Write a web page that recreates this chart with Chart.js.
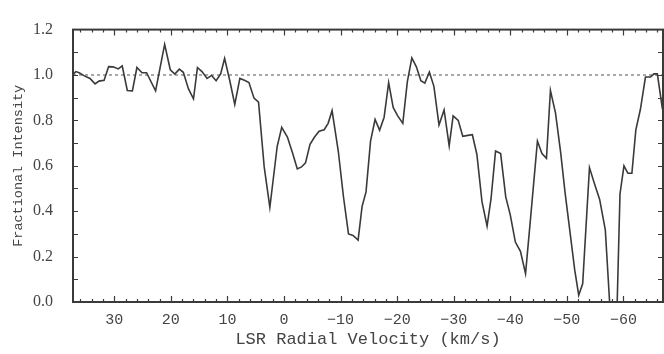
<!DOCTYPE html>
<html>
<head>
<meta charset="utf-8">
<script src="https://cdn.jsdelivr.net/npm/chart.js@4.4.1/dist/chart.umd.min.js"></script>
<style>
  html, body { margin: 0; padding: 0; background: #fff; }
  #wrap { width: 664px; height: 354px; position: relative; }
</style>
</head>
<body>
<div id="wrap"><canvas id="spectrum"></canvas></div>
<script>
// LSR radial velocity (km/s) and fractional intensity
const velocity = [
  37.4, 36.8, 36.2, 35.3, 34.3, 33.4, 32.7, 31.8, 31.0, 30.2,
  29.3, 28.6, 27.7, 26.8, 26.0, 25.1, 24.3, 22.7, 21.1, 20.1,
  19.3, 18.5, 17.8, 16.9, 16.0, 15.3, 14.5, 13.6, 12.8, 12.0,
  11.2, 10.5, 9.6, 8.7, 7.8, 7.0, 6.2, 5.3, 4.5, 3.5,
  2.5, 1.2, 0.4, -0.6, -1.5, -2.35, -3.1, -3.8, -4.6, -5.4,
  -6.2, -7.1, -7.8, -8.5, -9.6, -10.5, -11.4, -12.2, -13.1, -13.8,
  -14.5, -15.3, -16.1, -16.9, -17.7, -18.5, -19.3, -20.1, -21.0, -21.8,
  -22.6, -23.4, -24.2, -24.9, -25.7, -26.5, -27.4, -28.3, -29.2, -29.9,
  -30.8, -31.6, -32.5, -33.3, -34.1, -35.0, -35.9, -36.6, -37.4, -38.3,
  -39.2, -40.0, -40.9, -41.8, -42.7, -43.6, -44.8, -45.6, -46.4, -47.1,
  -48.0, -48.9, -49.7, -50.6, -51.4, -52.1, -52.8, -54.0, -54.9, -55.8,
  -56.8, -57.8, -58.8, -59.4, -60.1, -60.8, -61.5, -62.2, -63.0, -63.9,
  -64.8, -65.4, -66.0, -66.9
];
const intensity = [
  0.998, 1.015, 1.010, 0.996, 0.985, 0.961, 0.973, 0.977, 1.037, 1.036,
  1.027, 1.040, 0.932, 0.930, 1.033, 1.010, 1.010, 0.930, 1.135, 1.023,
  1.004, 1.026, 1.012, 0.940, 0.895, 1.033, 1.015, 0.985, 0.998, 0.975,
  1.005, 1.073, 0.977, 0.870, 0.985, 0.977, 0.967, 0.898, 0.880, 0.595,
  0.417, 0.686, 0.769, 0.727, 0.657, 0.586, 0.595, 0.613, 0.695, 0.727,
  0.752, 0.759, 0.787, 0.843, 0.664, 0.466, 0.300, 0.293, 0.273, 0.420,
  0.485, 0.709, 0.804, 0.757, 0.814, 0.966, 0.857, 0.820, 0.787, 0.970,
  1.075, 1.036, 0.975, 0.964, 1.013, 0.950, 0.780, 0.846, 0.688, 0.820,
  0.800, 0.730, 0.734, 0.737, 0.650, 0.442, 0.334, 0.455, 0.665, 0.654,
  0.463, 0.384, 0.264, 0.223, 0.125, 0.373, 0.709, 0.654, 0.633, 0.932,
  0.832, 0.660, 0.480, 0.300, 0.140, 0.030, 0.080, 0.592, 0.520, 0.452,
  0.318, -0.100, -0.100, 0.477, 0.600, 0.567, 0.567, 0.758, 0.848, 0.991,
  0.991, 1.005, 1.005, 0.850
];
const continuumLevel = 1.0;
const xLimits = [-67, 37.3];
const yTicks = [0, 0.2, 0.4, 0.6, 0.8, 1.0, 1.2];

const monoFont = "'Liberation Mono', 'DejaVu Sans Mono', monospace";
const serifFont = "'Liberation Serif', 'DejaVu Serif', serif";
const inkColor = '#3a3a3a';

// frame drawn on all four sides with inward-pointing ticks, like the original plotter figure
const frameTicks = {
  id: 'frameTicks',
  afterDatasetsDraw(chart) {
    const { ctx, chartArea: a, scales: { x, y } } = chart;
    ctx.save();
    ctx.strokeStyle = inkColor;
    ctx.lineWidth = 1.2;
    ctx.beginPath();
    for (let v = -66; v <= 36; v += 2) {
      const px = Math.round(x.getPixelForValue(v)) + 0.5;
      const len = v % 10 === 0 ? 6 : 3;
      ctx.moveTo(px, a.bottom); ctx.lineTo(px, a.bottom - len);
      ctx.moveTo(px, a.top); ctx.lineTo(px, a.top + len);
    }
    for (let i = 1; i < 12; i++) {
      const py = Math.round(y.getPixelForValue(i / 10)) + 0.5;
      ctx.moveTo(a.left, py); ctx.lineTo(a.left + 5, py);
      ctx.moveTo(a.right, py); ctx.lineTo(a.right - 5, py);
    }
    ctx.stroke();
    ctx.lineWidth = 2;
    ctx.strokeRect(a.left, a.top, a.right - a.left, a.bottom - a.top);
    ctx.restore();
  }
};

const fmtVel = v => (v < 0 ? '\u2212' + Math.abs(v) : String(v));

new Chart(document.getElementById('spectrum'), {
  type: 'line',
  data: {
    datasets: [
      {
        label: 'Fractional intensity',
        data: velocity.map((v, i) => ({ x: v, y: intensity[i] })),
        borderColor: inkColor,
        borderWidth: 1.6,
        pointRadius: 0,
        tension: 0,
        fill: false
      },
      {
        label: 'Continuum',
        data: [{ x: xLimits[1], y: continuumLevel }, { x: xLimits[0], y: continuumLevel }],
        borderColor: '#555',
        borderWidth: 1,
        borderDash: [3, 3],
        pointRadius: 0,
        fill: false
      }
    ]
  },
  options: {
    responsive: true,
    maintainAspectRatio: false,
    animation: false,
    layout: { padding: { top: 15, right: 1, left: 0, bottom: 0 } },
    plugins: { legend: { display: false }, tooltip: { enabled: false } },
    scales: {
      x: {
        type: 'linear',
        reverse: true,
        min: xLimits[0], max: xLimits[1],
        grid: { display: false, drawTicks: false },
        border: { display: false },
        afterFit: s => { s.height = 52; },
        ticks: {
          stepSize: 10, includeBounds: false, padding: 9,
          color: '#444', font: { family: monoFont, size: 15 },
          maxRotation: 0, autoSkip: false,
          callback: v => fmtVel(v)
        },
        title: {
          display: true, text: 'LSR Radial Velocity (km/s)',
          color: '#444', font: { family: monoFont, size: 17 },
          padding: { top: 0, bottom: 4 }
        }
      },
      y: {
        min: yTicks[0], max: yTicks[yTicks.length - 1],
        grid: { display: false, drawTicks: false },
        border: { display: false },
        afterFit: s => { s.width = 73; },
        afterBuildTicks: s => { s.ticks = yTicks.map(v => ({ value: v })); },
        ticks: {
          padding: 20, color: '#444', font: { family: serifFont, size: 16 },
          callback: v => Number(v).toFixed(1)
        },
        title: {
          display: true, text: 'Fractional Intensity',
          color: '#444', font: { family: monoFont, size: 13.5 },
          padding: { top: 10, bottom: 0 }
        }
      }
    }
  },
  plugins: [frameTicks]
});
</script>
</body>
</html>
